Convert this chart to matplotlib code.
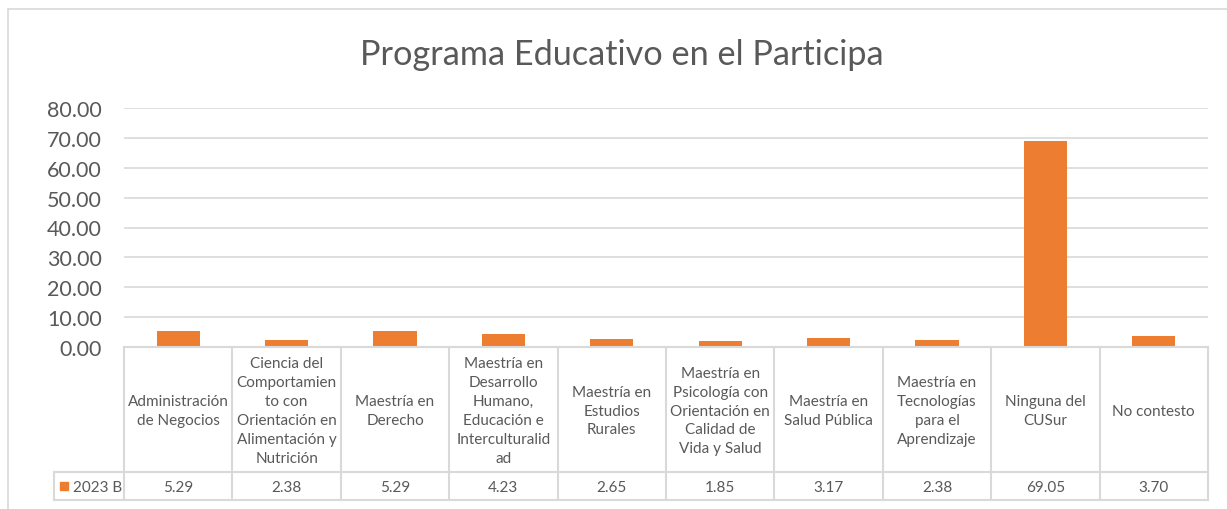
import matplotlib
matplotlib.use("Agg")
import matplotlib.pyplot as plt
from matplotlib.lines import Line2D
from matplotlib.patches import Rectangle

categories = [
    "Administración\nde Negocios",
    "Ciencia del\nComportamien\nto con\nOrientación en\nAlimentación y\nNutrición",
    "Maestría en\nDerecho",
    "Maestría en\nDesarrollo\nHumano,\nEducación e\nInterculturalid\nad",
    "Maestría en\nEstudios\nRurales",
    "Maestría en\nPsicología con\nOrientación en\nCalidad de\nVida y Salud",
    "Maestría en\nSalud Pública",
    "Maestría en\nTecnologías\npara el\nAprendizaje",
    "Ninguna del\nCUSur",
    "No contesto",
]
values = [5.29, 2.38, 5.29, 4.23, 2.65, 1.85, 3.17, 2.38, 69.05, 3.70]
series_name = "2023 B"
title = "Programa Educativo en el Participa"
yticks = [0, 10, 20, 30, 40, 50, 60, 70, 80]

BAR = "#ED7D31"
GRID = "#D9D9D9"
TXT = "#595959"
FONT = ["Lato", "DejaVu Sans"]
plt.rcParams["font.family"] = FONT

W, H = 1227, 510
fig = plt.figure(figsize=(W / 100, H / 100), dpi=100)

def fx(px):
    return px / W

def fy(py):
    return 1 - py / H

# chart border (left and top visible)
fig.add_artist(Line2D([fx(8), fx(8)], [fy(10), fy(510)], color=GRID, lw=1.2))
fig.add_artist(Line2D([fx(8), fx(1227)], [fy(10), fy(10)], color=GRID, lw=1.2))

x0, x1 = 124, 1208
ytop, y0 = 109, 348
ax = fig.add_axes([fx(x0), fy(y0), fx(x1 - x0), (y0 - ytop) / H])
n = len(categories)
xs = list(range(n))
ax.bar(xs, values, width=0.4, color=BAR, zorder=3)
ax.set_xlim(-0.5, n - 0.5)
ax.set_ylim(0, 80)
ax.set_yticks(yticks)
ax.set_yticklabels([f"{v:.2f}" for v in yticks], fontsize=15.5, color=TXT)
ax.tick_params(axis="y", length=0, pad=16)
ax.set_xticks([])
for s in ax.spines.values():
    s.set_visible(False)
ax.grid(axis="y", color=GRID, lw=1.2, zorder=0)
ax.set_axisbelow(True)

fig.text(0.507, fy(55), title, ha="center", va="center", fontsize=24.7, color=TXT)

# data table
tb_top, tb_mid, tb_bot = 348, 473, 501
tax = fig.add_axes([fx(x0), fy(tb_bot), fx(x1 - x0), (tb_bot - tb_top) / H])
tax.set_xlim(-0.5, n - 0.5)
tax.set_ylim(tb_bot, tb_top)
tax.axis("off")
lw = 1.5
colw = (x1 - x0) / n
leg_left = -0.5 - (x0 - 54) / colw
tax.plot([-0.5, n - 0.5], [tb_top, tb_top], color=GRID, lw=lw, clip_on=False)
tax.plot([leg_left, n - 0.5], [tb_mid, tb_mid], color=GRID, lw=lw, clip_on=False)
tax.plot([leg_left, n - 0.5], [tb_bot, tb_bot], color=GRID, lw=lw, clip_on=False)
tax.plot([leg_left, leg_left], [tb_mid, tb_bot], color=GRID, lw=lw, clip_on=False)
for i in range(n + 1):
    tax.plot([i - 0.5, i - 0.5], [tb_top, tb_bot], color=GRID, lw=lw, clip_on=False)
for i, (c, v) in enumerate(zip(categories, values)):
    tax.text(i, (tb_top + tb_mid) / 2 + 1, c, ha="center", va="center",
             fontsize=11, color=TXT, linespacing=1.45)
    tax.text(i, (tb_mid + tb_bot) / 2 + 0.5, f"{v:.2f}", ha="center", va="center",
             fontsize=11, color=TXT)
sq = 8 / colw
tax.add_patch(Rectangle((leg_left + 6 / colw, (tb_mid + tb_bot) / 2 - 4), sq, 8,
                        color=BAR, clip_on=False))
tax.text(leg_left + 19 / colw, (tb_mid + tb_bot) / 2 + 0.5, series_name,
         ha="left", va="center", fontsize=11, color=TXT)

fig.savefig("out.png", dpi=100)
